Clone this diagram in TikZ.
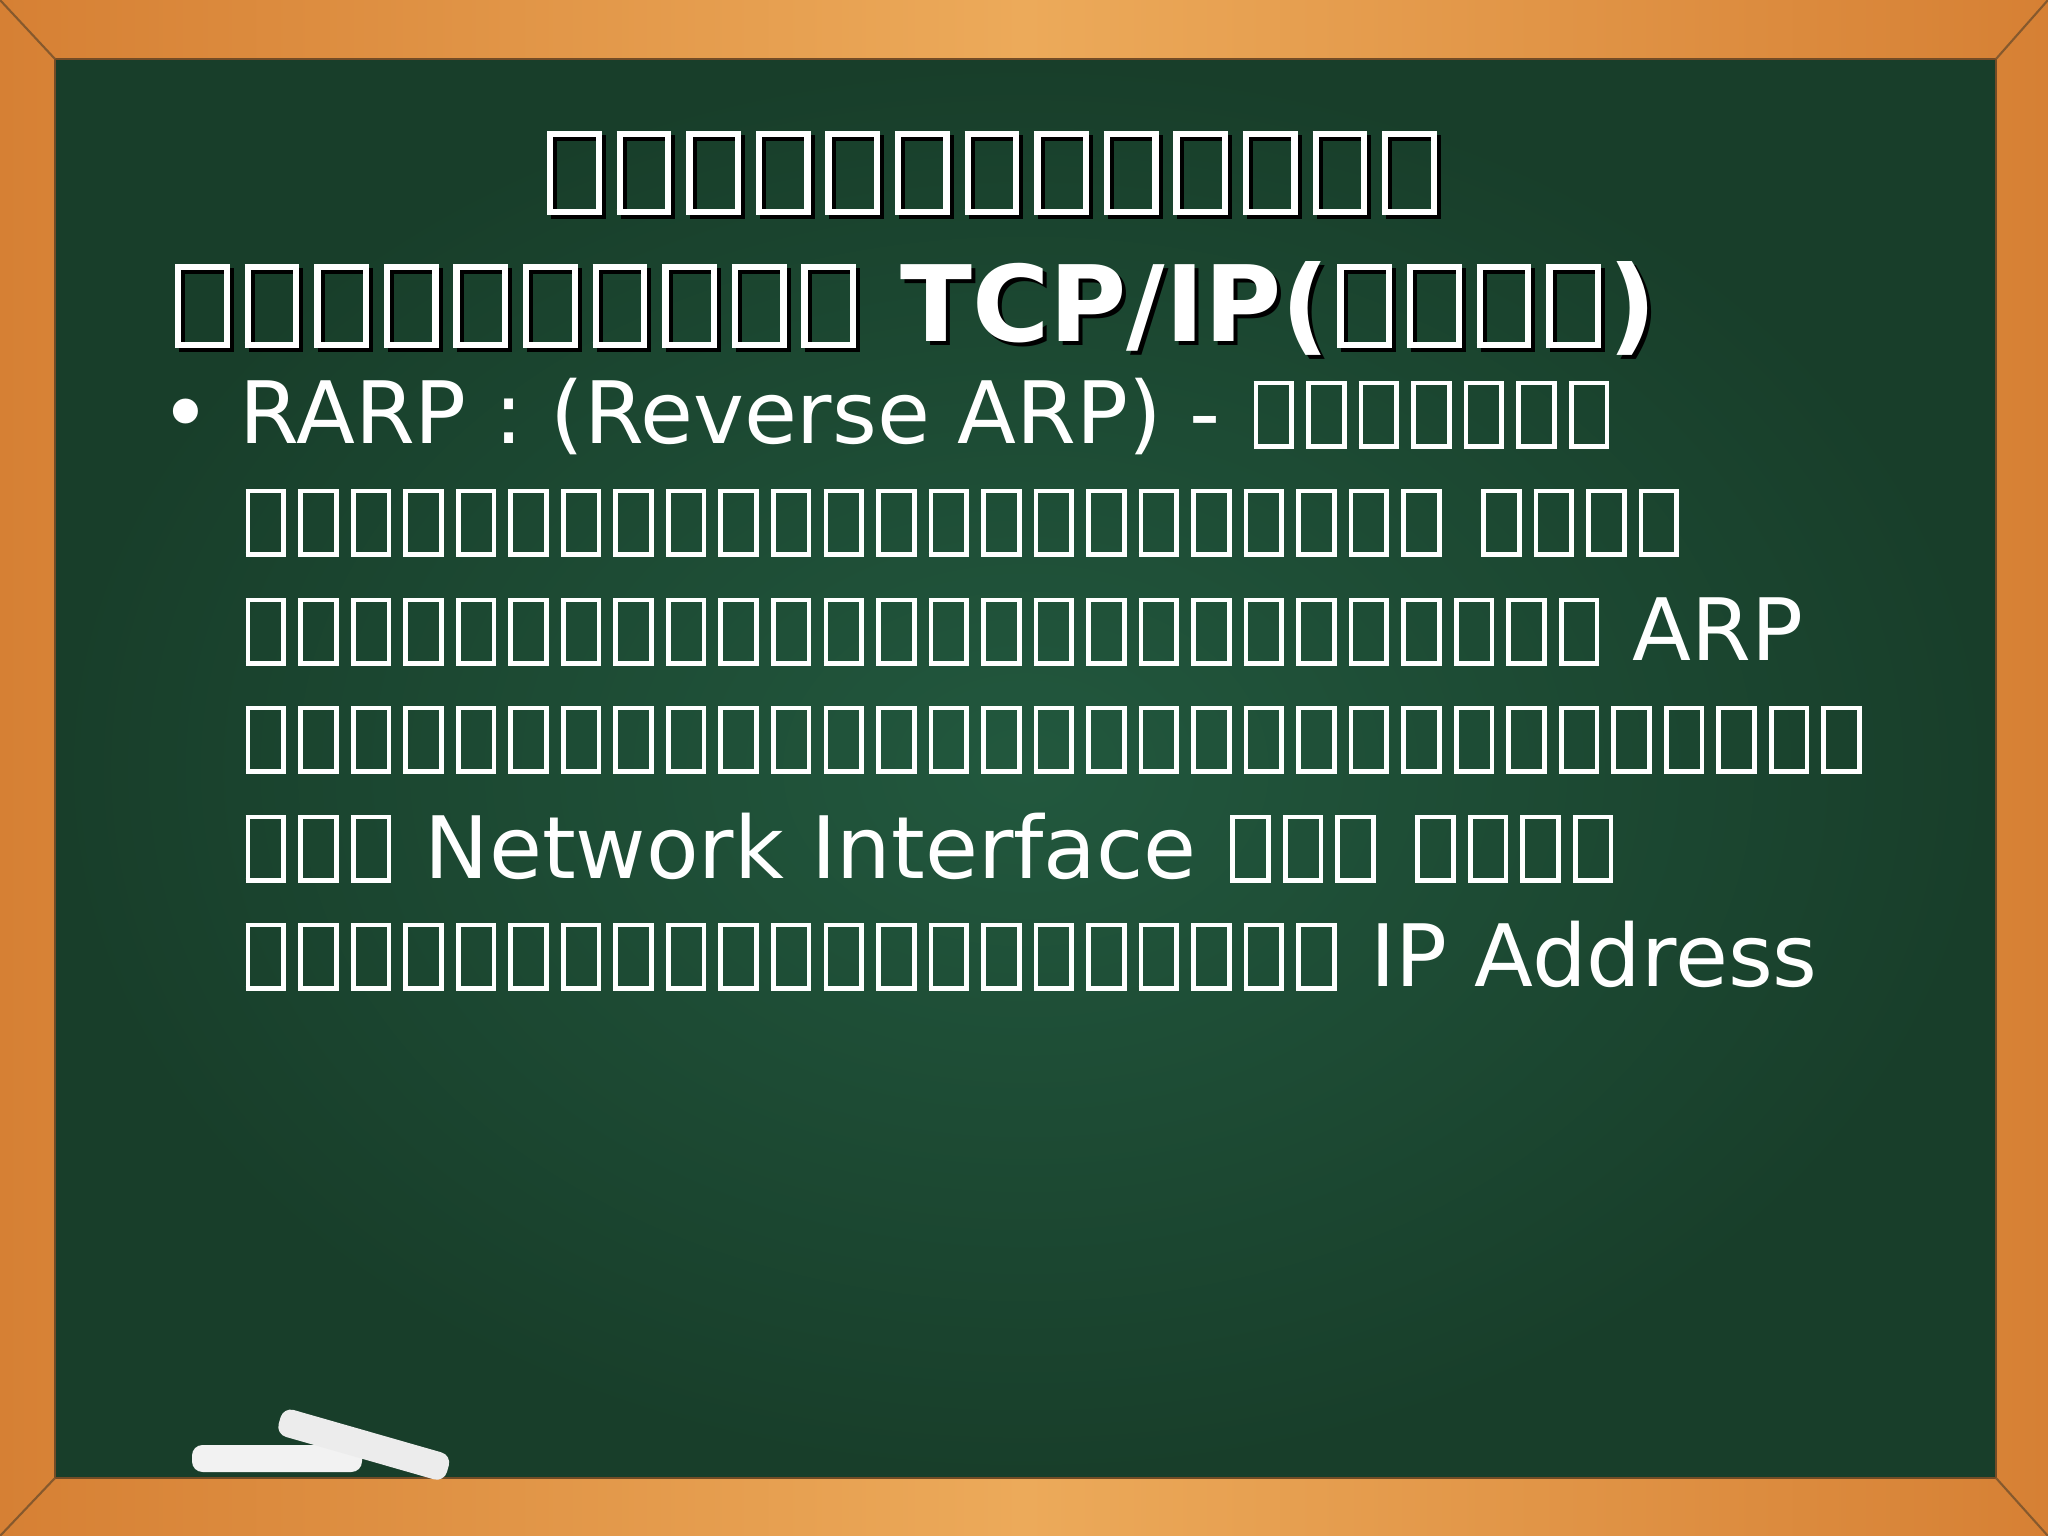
\documentclass[tikz,border=0pt]{standalone}
\usepackage{fontspec}
\setmainfont{DejaVu Sans}
\newcommand\bx{\kern0.07em{\fboxsep0pt\fboxrule0.055em\fbox{\rule{0pt}{0.68em}\hspace{0.36em}}}\kern0.07em}
\newcommand\bxt{\kern0.07em{\fboxsep0pt\fboxrule0.06em\fbox{\rule{0pt}{0.68em}\hspace{0.4em}}}\kern0.07em}
\newcount\bxc
\newcommand\bxn[1]{\bxc=0 \loop\ifnum\bxc<#1 \bx\advance\bxc by1 \repeat}
\newcommand\bxtn[1]{\bxc=0 \loop\ifnum\bxc<#1 \bxt\advance\bxc by1 \repeat}
\definecolor{woodA}{RGB}{214,128,52}
\definecolor{woodB}{RGB}{236,170,90}
\definecolor{boardIn}{RGB}{34,88,62}
\definecolor{boardOut}{RGB}{24,62,42}
\begin{document}
\begin{tikzpicture}[x=1cm,y=1cm,
  body/.style={anchor=base west,text=white,font=\fontsize{24.5}{24.5}\selectfont,inner sep=0},
  ttl/.style={font=\bfseries\fontsize{30}{30}\selectfont,inner sep=0}]
\useasboundingbox (0,0) rectangle (20.48,-15.36);
% wood frame
\fill[left color=woodA, right color=woodA, middle color=woodB] (0,0) rectangle (20.48,-15.36);
\fill[inner color=boardIn, outer color=boardOut] (0.55,-0.59) rectangle (19.96,-14.78);
\draw[brown!60!black,line width=0.6pt] (0.55,-0.59) rectangle (19.96,-14.78);
\draw[brown!70!black,line width=0.6pt] (0,0)--(0.55,-0.59) (20.48,0)--(19.96,-0.59) (0,-15.36)--(0.55,-14.78) (20.48,-15.36)--(19.96,-14.78);
% chalk
\fill[white!90!gray,rounded corners=3pt] (1.92,-14.45) rectangle (3.62,-14.72);
\fill[white!85!gray,rounded corners=3pt,rotate around={-16:(2.85,-14.2)}] (2.80,-14.08) rectangle (4.55,-14.36);
% title
\node[ttl,text=black] at (9.96,-1.77) {\bxtn{13}};
\node[ttl,text=white] (t1) at (9.92,-1.73) {\bxtn{13}};
\node[ttl,text=black,anchor=base west] at (1.71,-3.46) {\bxtn{10} TCP/IP(\bxtn{4})};
\node[ttl,text=white,anchor=base west] (t2) at (1.67,-3.42) {\bxtn{10} TCP/IP(\bxtn{4})};
% body
\node[body] (b0) at (1.60,-4.44) {•};
\node[body] (b1) at (2.39,-4.44) {RARP : (Reverse ARP) - \bxn{7}};
\node[body] (b2) at (2.39,-5.52) {\bxn{23} \bxn{4}};
\node[body] (b3) at (2.39,-6.61) {\bxn{26} ARP};
\node[body] (b4) at (2.39,-7.69) {\bxn{31}};
\node[body] (b5) at (2.39,-8.78) {\bxn{3} Network Interface \bxn{3} \bxn{4}};
\node[body] (b6) at (2.39,-9.86) {\bxn{21} IP Address};
\end{tikzpicture}
\end{document}
